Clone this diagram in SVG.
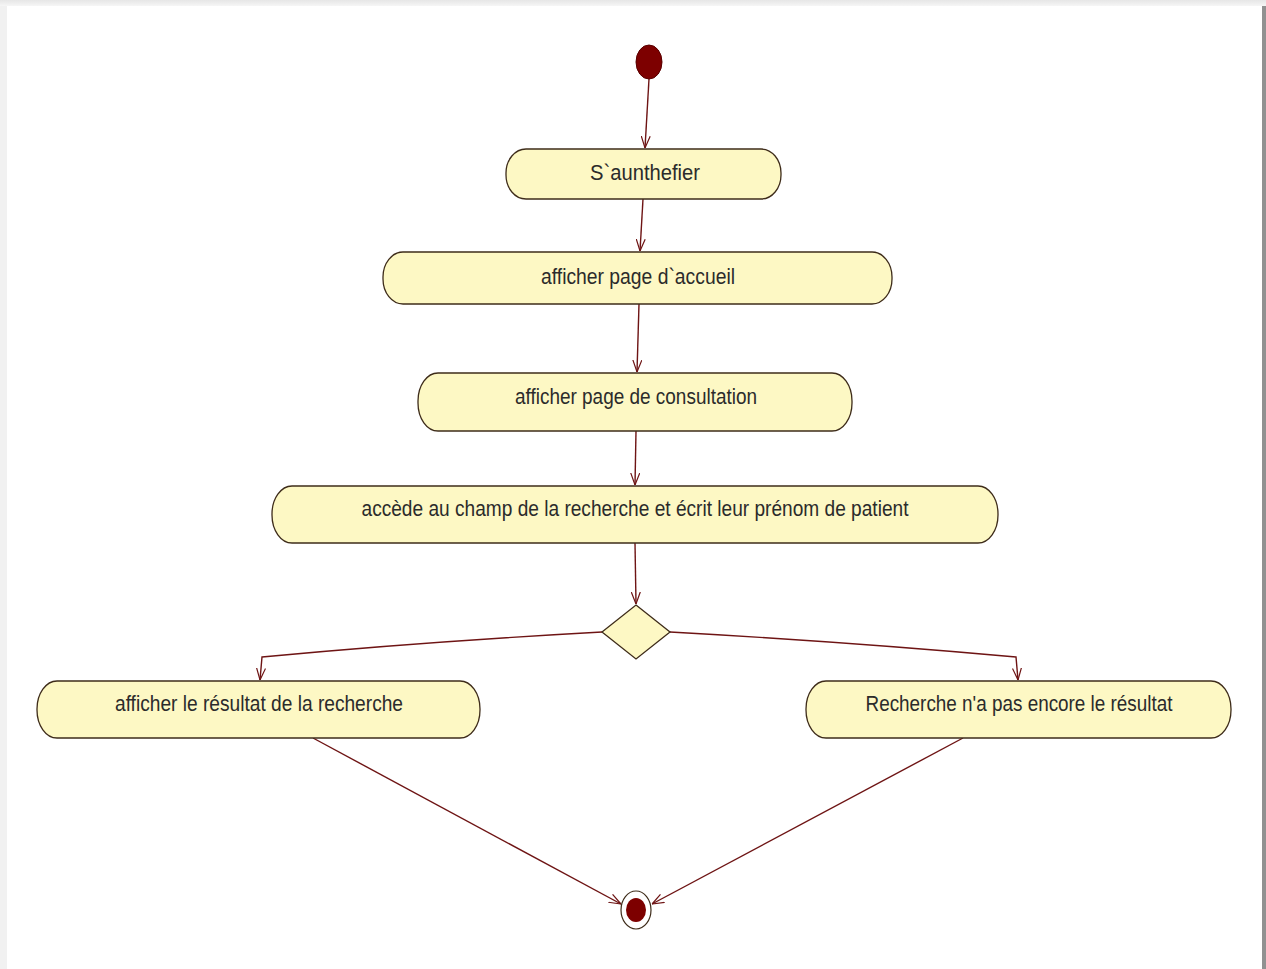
<svg xmlns="http://www.w3.org/2000/svg" width="1266" height="969" viewBox="0 0 1266 969">
<defs>
<style>
.act{fill:#fdf8c4;stroke:#3e2c1a;stroke-width:1.3}
.lbl{font-family:"Liberation Sans",Arial,sans-serif;font-size:22px;fill:#2b2b2b;text-anchor:middle}
.edge{fill:none;stroke:#6e1414;stroke-width:1.4}
</style>
<linearGradient id="topg" x1="0" y1="0" x2="0" y2="1">
<stop offset="0" stop-color="#e6e6e6"/><stop offset="1" stop-color="#f6f6f6"/>
</linearGradient>
<marker id="arr" viewBox="0 0 12 10" refX="12" refY="5" markerWidth="12" markerHeight="10" orient="auto" markerUnits="userSpaceOnUse">
<path d="M0,0.5 L12,5 L0,9.5" fill="none" stroke="#6e1414" stroke-width="1.2"/>
</marker>
</defs>
<rect x="0" y="0" width="1266" height="969" fill="#f1f1f1"/>
<rect x="0" y="0" width="1266" height="6" fill="url(#topg)"/>
<rect x="7" y="6" width="1255" height="963" fill="#ffffff"/>
<rect x="1262" y="6" width="4" height="963" fill="#919191"/>

<g id="connectors">
<path class="edge" d="M649,79 L645,148" marker-end="url(#arr)"/>
<path class="edge" d="M643,199 L640,251" marker-end="url(#arr)"/>
<path class="edge" d="M639,304 L637,372" marker-end="url(#arr)"/>
<path class="edge" d="M636,431 L635,485" marker-end="url(#arr)"/>
<path class="edge" d="M635,543 L636,604" marker-end="url(#arr)"/>
<path class="edge" d="M602,632 Q420,642 262,657 L260,680" marker-end="url(#arr)"/>
<path class="edge" d="M670,632 Q850,642 1016,657 L1018,680" marker-end="url(#arr)"/>
<path class="edge" d="M313,738 L621,904" marker-end="url(#arr)"/>
<path class="edge" d="M963,738 L652,904" marker-end="url(#arr)"/>
</g>

<g id="initial">
<ellipse cx="649" cy="62" rx="13" ry="17" fill="#7d0000" stroke="#5a0000" stroke-width="1"/>
</g>

<g id="n1">
<rect class="act" x="506" y="149" width="275" height="50" rx="20" ry="24"/>
<text class="lbl" x="645" y="180" textLength="110" lengthAdjust="spacingAndGlyphs">S`aunthefier</text>
</g>

<g id="n2">
<rect class="act" x="383" y="252" width="509" height="52" rx="20" ry="25"/>
<text class="lbl" x="638" y="284" textLength="194" lengthAdjust="spacingAndGlyphs">afficher page d`accueil</text>
</g>

<g id="n3">
<rect class="act" x="418" y="373" width="434" height="58" rx="20" ry="28"/>
<text class="lbl" x="636" y="404" textLength="242" lengthAdjust="spacingAndGlyphs">afficher page de consultation</text>
</g>

<g id="n4">
<rect class="act" x="272" y="486" width="726" height="57" rx="20" ry="28"/>
<text class="lbl" x="635" y="516" textLength="547" lengthAdjust="spacingAndGlyphs">accède au champ de la recherche et écrit leur prénom de patient</text>
</g>

<g id="decision">
<polygon points="636,605 670,632 636,659 602,632" fill="#fdf8c4" stroke="#3e2c1a" stroke-width="1.3"/>
</g>

<g id="n5">
<rect class="act" x="37" y="681" width="443" height="57" rx="20" ry="28"/>
<text class="lbl" x="259" y="711" textLength="288" lengthAdjust="spacingAndGlyphs">afficher le résultat de la recherche</text>
</g>

<g id="n6">
<rect class="act" x="806" y="681" width="425" height="57" rx="20" ry="28"/>
<text class="lbl" x="1019" y="711" textLength="307" lengthAdjust="spacingAndGlyphs">Recherche n'a pas encore le résultat</text>
</g>

<g id="final">
<ellipse cx="636" cy="910" rx="15" ry="19" fill="#ffffff" stroke="#3e2c1a" stroke-width="1.2"/>
<ellipse cx="636" cy="910" rx="10" ry="12" fill="#7d0000"/>
</g>
</svg>
